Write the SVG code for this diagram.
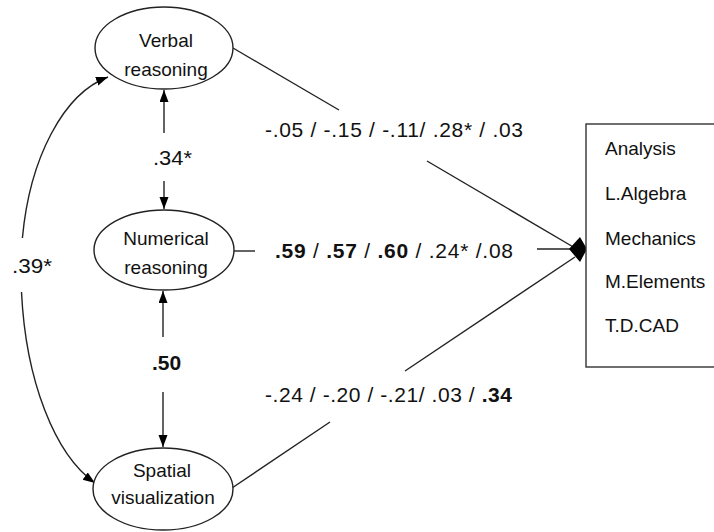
<svg xmlns="http://www.w3.org/2000/svg" width="714" height="532" viewBox="0 0 714 532">
<style>
.node{fill:#fff;stroke:#222;stroke-width:1.4}
.nt{font-family:"Liberation Sans",Arial,sans-serif;font-size:19px;fill:#111;text-anchor:middle}
.lbl{font-family:"Liberation Sans",Arial,sans-serif;font-size:21px;fill:#111}
.bt{font-family:"Liberation Sans",Arial,sans-serif;font-size:19px;fill:#111}
.ln{fill:none;stroke:#222;stroke-width:1.4}
</style>
<defs>
<marker id="ah" markerWidth="13" markerHeight="10" refX="12" refY="4.5" orient="auto" markerUnits="userSpaceOnUse">
<path d="M0,0 L12,4.5 L0,9 z" fill="#000"/>
</marker>
</defs>
<g id="connectors">
<path class="ln" d="M233,48 L339,110"/>
<path class="ln" d="M427,161 L575,248"/>
<path class="ln" d="M234,251 L255,251"/>
<path class="ln" d="M537,249 L575,249"/>
<path class="ln" d="M232,488 L330,422"/>
<path class="ln" d="M405,371 L575,257"/>
<polygon points="569,249 580,237 587,249 580,262" fill="#000"/>
<path class="ln" d="M164,133 L164,90" marker-end="url(#ah)"/>
<path class="ln" d="M164,181 L164,209" marker-end="url(#ah)"/>
<path class="ln" d="M163,337 L163,291" marker-end="url(#ah)"/>
<path class="ln" d="M163,392 L163,447" marker-end="url(#ah)"/>
<path class="ln" d="M22.4,238 A109 197 0 0 1 108,77" marker-end="url(#ah)"/>
<path class="ln" d="M21.5,292 A109 225 0 0 0 95,483" marker-end="url(#ah)"/>
<text class="lbl" x="153" y="165" textLength="39" lengthAdjust="spacingAndGlyphs">.34*</text>
<text class="lbl" x="152" y="370" font-weight="bold">.50</text>
<text class="lbl" x="12" y="273" textLength="40" lengthAdjust="spacingAndGlyphs">.39*</text>
<text class="lbl" x="265" y="137" textLength="258" lengthAdjust="spacing">-.05 / -.15 / -.11/ .28* / .03</text>
<text class="lbl" x="275" y="258" textLength="238" lengthAdjust="spacing"><tspan font-weight="bold">.59</tspan> / <tspan font-weight="bold">.57</tspan> / <tspan font-weight="bold">.60</tspan> / .24* /.08</text>
<text class="lbl" x="265" y="402" textLength="247" lengthAdjust="spacing">-.24 / -.20 / -.21/ .03 / <tspan font-weight="bold">.34</tspan></text>
</g>
<g id="verbal">
<ellipse class="node" cx="164" cy="48" rx="69" ry="41"/>
<text class="nt" x="166" y="47">Verbal</text>
<text class="nt" x="166" y="76">reasoning</text>
</g>
<g id="numerical">
<ellipse class="node" cx="164" cy="250" rx="70" ry="40"/>
<text class="nt" x="166" y="245">Numerical</text>
<text class="nt" x="166" y="274">reasoning</text>
</g>
<g id="spatial">
<ellipse class="node" cx="163" cy="489" rx="70" ry="41"/>
<text class="nt" x="162" y="477">Spatial</text>
<text class="nt" x="163" y="504">visualization</text>
</g>
<g id="outcomes">
<rect x="586" y="124" width="140" height="243" fill="#fff" stroke="#333" stroke-width="1.4"/>
<text class="bt" x="605" y="155">Analysis</text>
<text class="bt" x="605" y="200">L.Algebra</text>
<text class="bt" x="605" y="245">Mechanics</text>
<text class="bt" x="605" y="288">M.Elements</text>
<text class="bt" x="605" y="332">T.D.CAD</text>
</g>
</svg>
